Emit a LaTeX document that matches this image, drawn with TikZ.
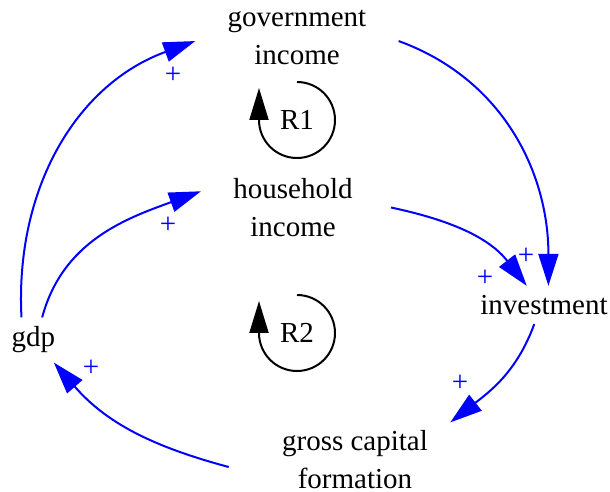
\documentclass[tikz,border=0pt]{standalone}
\usepackage{fontspec}
\setmainfont{Liberation Serif}
\usetikzlibrary{arrows.meta}

\begin{document}
\begin{tikzpicture}[
  x=0.5pt, y=0.5pt,
  varnode/.style={align=center, inner xsep=16pt, inner ysep=4.5pt, font=\fontsize{14.5}{19}\selectfont},
  causal/.style={draw=blue, line width=1pt, -{Triangle[length=16pt, width=10pt]}},
  polarity/.style={text=blue, inner sep=0pt, font=\fontsize{14.5}{19}\selectfont},
  loopsign/.style={inner sep=0pt, font=\fontsize{14.5}{19}\selectfont},
  looparr/.style={draw=black, line width=1pt, -{Triangle[length=16pt, width=9.5pt]}}
]
\useasboundingbox (0,0) rectangle (610,492);

\node[varnode] (gov) at (297,454.5) {government\\income};
\node[varnode] (hh) at (293,284.5) {household\\income};
\node[varnode] (inv) at (544,187) {investment};
\node[varnode] (gdp) at (33.5,152) {gdp};
\node[varnode, inner ysep=0pt] (gcf) at (355,32) {gross capital\\formation};

\node[loopsign] (R1) at (297,372) {R1};
\node[loopsign] (R2) at (297,159) {R2};

\draw[causal] (gdp.118) to[out=93, in=200] (gov.182);
\draw[causal] (gdp.69) to[out=75, in=200] (hh.170);
\draw[causal] (gov.-2) to[out=-20, in=90] (inv.77);
\draw[causal] ([xshift=3pt]hh.east) to[out=-12, in=128] (inv.132);
\draw[causal] (inv.-117) to[out=-110, in=38] ([shift={(-10,8)}]gcf.north east);
\draw[causal] ([shift={(-21,-7)}]gcf.west) to[out=165, in=-49] (gdp.-48);

\node[polarity] (p1) at (173,417) {+};
\node[polarity] (p2) at (168,267) {+};
\node[polarity] (p3) at (526,236) {+};
\node[polarity] (p4) at (485,214) {+};
\node[polarity] (p5) at (460,109) {+};
\node[polarity] (p6) at (91,124) {+};

\draw[looparr] (R1) ++(0,38) arc[start angle=90, end angle=-180, radius=38] -- ++(0,32);
\draw[looparr] (R2) ++(0,38) arc[start angle=90, end angle=-180, radius=38] -- ++(0,32);
\end{tikzpicture}
\end{document}
